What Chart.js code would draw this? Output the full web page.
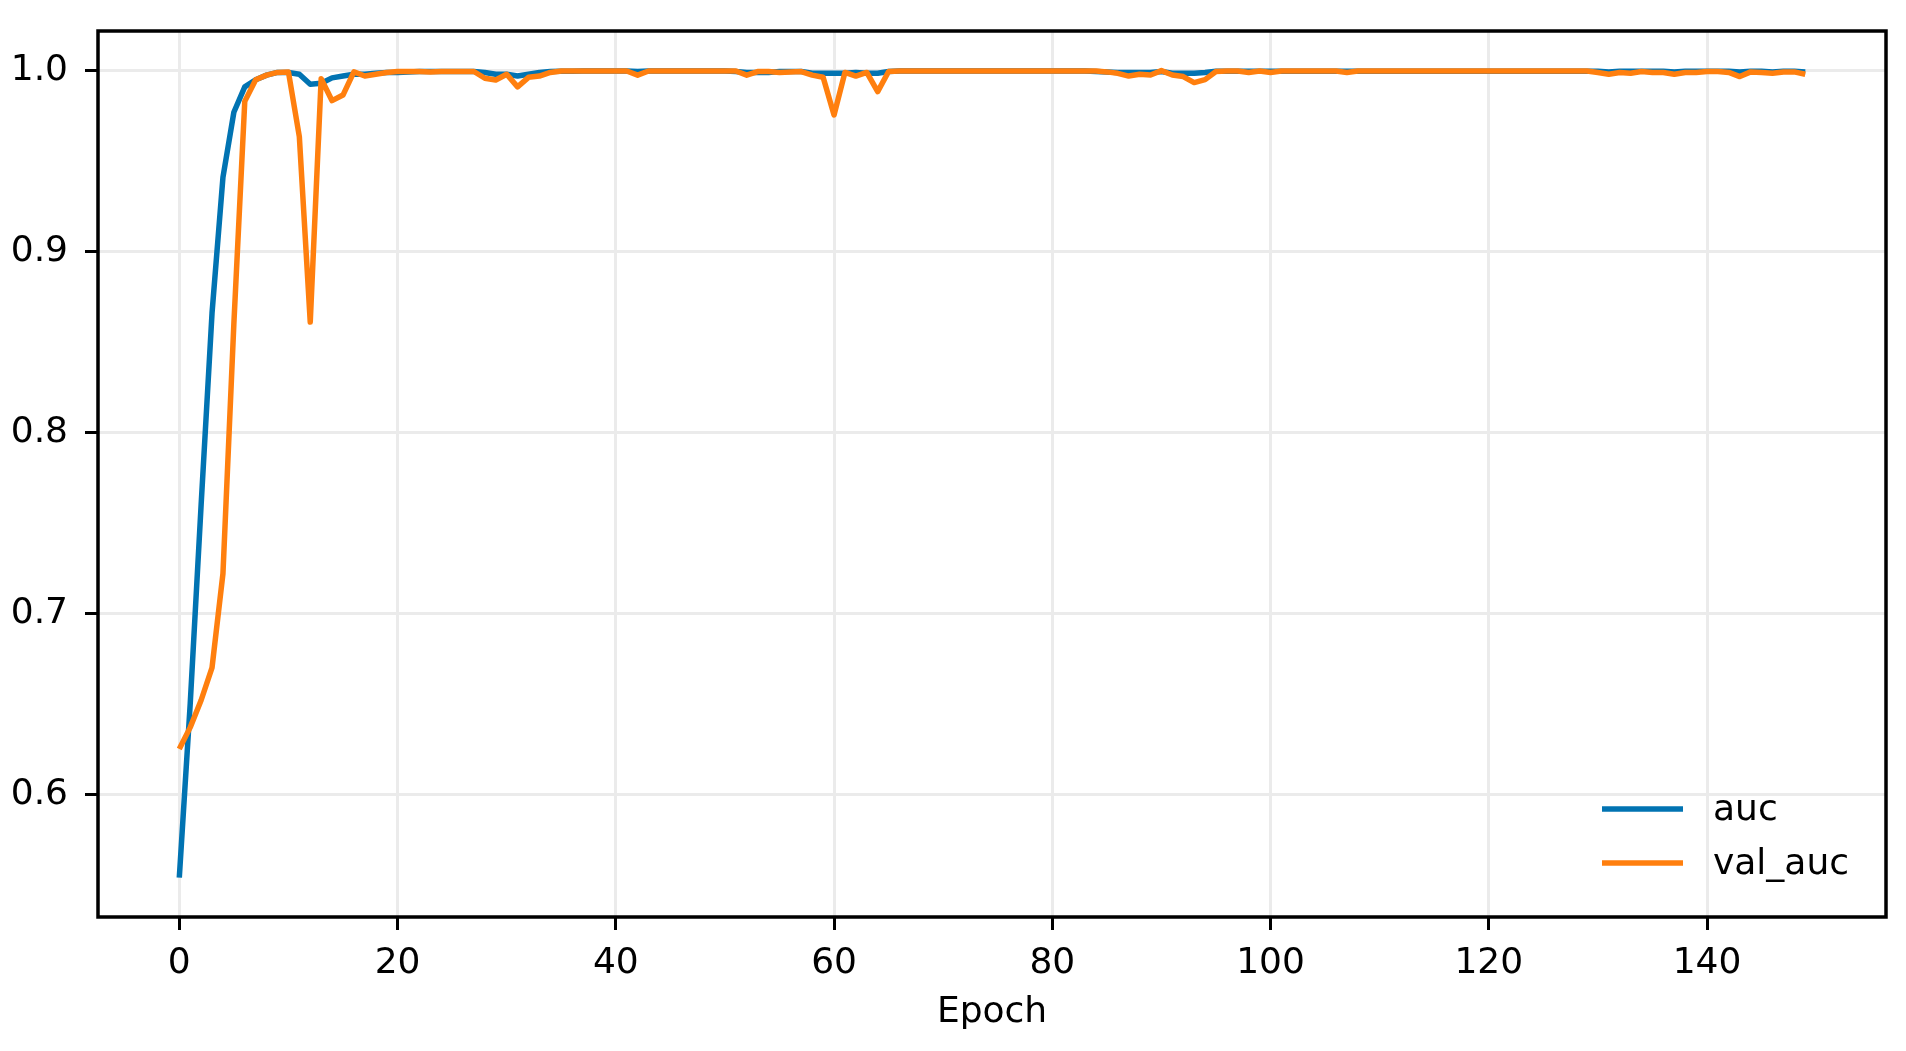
<!DOCTYPE html>
<html>
<head>
<meta charset="utf-8">
<script src="https://cdn.jsdelivr.net/npm/chart.js@4.4.1/dist/chart.umd.min.js"></script>
<style>
    body { margin: 0; background: #ffffff; }
    canvas { display: block; }
</style>
</head>
<body>
<canvas id="auc-chart" width="1906" height="1051"></canvas>
<script>
const epochs = Array.from({ length: 150 }, (_, i) => i);

const aucValues = [
    0.554, 0.650, 0.760, 0.866, 0.941, 0.977, 0.991, 0.995, 0.9975, 0.999,
    0.999, 0.998, 0.9925, 0.993, 0.996, 0.997, 0.998, 0.998, 0.9985, 0.999,
    0.999, 0.9993, 0.9995, 0.9995, 0.9995, 0.9995, 0.9995, 0.9995, 0.999, 0.998,
    0.998, 0.997, 0.998, 0.999, 0.9995, 0.9997, 0.9997, 0.9998, 0.9998, 0.9998,
    0.9998, 0.9998, 0.9995, 0.9998, 0.9998, 0.9998, 0.9998, 0.9998, 0.9998, 0.9998,
    0.9998, 0.9995, 0.999, 0.999, 0.999, 0.9995, 0.9995, 0.9995, 0.9985, 0.9985,
    0.9985, 0.9985, 0.999, 0.9985, 0.9985, 0.9995, 0.9998, 0.9998, 0.9998, 0.9998,
    0.9998, 0.9998, 0.9998, 0.9998, 0.9998, 0.9998, 0.9998, 0.9998, 0.9998, 0.9998,
    0.9998, 0.9998, 0.9998, 0.9998, 0.9995, 0.9993, 0.999, 0.999, 0.999, 0.999,
    0.9995, 0.9985, 0.9985, 0.9985, 0.999, 0.9997, 0.9997, 0.9997, 0.9997, 0.9997,
    0.9997, 0.9997, 0.9997, 0.9997, 0.9997, 0.9997, 0.9997, 0.9997, 0.9997, 0.9997,
    0.9997, 0.9997, 0.9997, 0.9997, 0.9997, 0.9997, 0.9997, 0.9997, 0.9997, 0.9997,
    0.9997, 0.9997, 0.9997, 0.9997, 0.9997, 0.9997, 0.9997, 0.9997, 0.9997, 0.9997,
    0.9997, 0.9993, 0.9997, 0.9997, 0.9997, 0.9997, 0.9997, 0.9993, 0.9997, 0.9997,
    0.9997, 0.9997, 0.9997, 0.9993, 0.9997, 0.9997, 0.9993, 0.9997, 0.9997, 0.9993
];

const valAucValues = [
    0.625, 0.637, 0.652, 0.670, 0.722, 0.860, 0.983, 0.995, 0.9975, 0.999,
    0.9993, 0.9635, 0.861, 0.9955, 0.9834, 0.9865, 0.9993, 0.997, 0.998, 0.999,
    0.9995, 0.9995, 0.9995, 0.9993, 0.9995, 0.9995, 0.9995, 0.9995, 0.9958, 0.9948,
    0.998, 0.991, 0.9963, 0.997, 0.999, 0.9998, 0.9998, 0.9998, 0.9998, 0.9998,
    0.9998, 0.9998, 0.9975, 0.9998, 0.9998, 0.9998, 0.9998, 0.9998, 0.9998, 0.9998,
    0.9998, 0.9998, 0.9975, 0.9995, 0.9995, 0.999, 0.9992, 0.9995, 0.9975, 0.9963,
    0.9755, 0.999, 0.997, 0.999, 0.9884, 0.9995, 0.9998, 0.9998, 0.9998, 0.9998,
    0.9998, 0.9998, 0.9998, 0.9998, 0.9998, 0.9998, 0.9998, 0.9998, 0.9998, 0.9998,
    0.9998, 0.9998, 0.9998, 0.9998, 0.9998, 0.9993, 0.9985, 0.997, 0.998, 0.9976,
    1.0, 0.9976, 0.9967, 0.9934, 0.995, 0.9995, 0.9998, 0.9998, 0.999, 0.9998,
    0.999, 0.9998, 0.9998, 0.9998, 0.9998, 0.9998, 0.9998, 0.999, 0.9998, 0.9998,
    0.9998, 0.9998, 0.9998, 0.9998, 0.9998, 0.9998, 0.9998, 0.9998, 0.9998, 0.9998,
    0.9998, 0.9998, 0.9998, 0.9998, 0.9998, 0.9998, 0.9998, 0.9998, 0.9998, 0.9998,
    0.999, 0.998, 0.999, 0.9985, 0.9995, 0.999, 0.999, 0.998, 0.999, 0.999,
    0.9995, 0.9995, 0.999, 0.9967, 0.9993, 0.999, 0.9985, 0.9992, 0.9993, 0.998
];

const xTicks = [0, 20, 40, 60, 80, 100, 120, 140];
const yTicks = [0.6, 0.7, 0.8, 0.9, 1.0];

const FONT = { family: 'DejaVu Sans', size: 36 };

// matplotlib-style frame around the plot area
const framePlugin = {
    id: 'frame',
    afterDatasetsDraw(chart) {
        const { ctx, chartArea } = chart;
        ctx.save();
        ctx.strokeStyle = '#000';
        ctx.lineWidth = 3.5;
        ctx.strokeRect(chartArea.left, chartArea.top, chartArea.right - chartArea.left, chartArea.bottom - chartArea.top);
        ctx.restore();
    }
};

// legend inside the axes, bottom right, no box
const legendPlugin = {
    id: 'innerLegend',
    afterDraw(chart) {
        const { ctx } = chart;
        const x0 = 1602, x1 = 1683, tx = 1713;
        const rows = [809, 863];
        ctx.save();
        ctx.font = `${FONT.size}px ${FONT.family}`;
        ctx.textBaseline = 'middle';
        ctx.fillStyle = '#000';
        chart.data.datasets.forEach((ds, i) => {
            ctx.strokeStyle = ds.borderColor;
            ctx.lineWidth = 5.5;
            ctx.beginPath();
            ctx.moveTo(x0, rows[i]);
            ctx.lineTo(x1, rows[i]);
            ctx.stroke();
            ctx.fillText(ds.label, tx, rows[i] + 2);
        });
        ctx.restore();
    }
};

const fixedTicks = (values) => (scale) => {
    scale.ticks = values.map(v => ({ value: v }));
};

const SetData = () => {
    const data = {
        labels: epochs,
        datasets: [{
            label: 'auc',
            data: aucValues,
            borderColor: '#0173b2',
            borderWidth: 5.5,
            order: 1
        },
        {
            label: 'val_auc',
            data: valAucValues,
            borderColor: '#ff7f0e',
            borderWidth: 5.5,
            order: 0
        }]
    };

    const config = {
        type: 'line',
        data: data,
        options: {
            responsive: false,
            animation: false,
            layout: { padding: { top: 31, right: 20, left: 0, bottom: 0 } },
            elements: {
                point: { radius: 0 },
                line: { tension: 0, borderCapStyle: 'butt', borderJoinStyle: 'round' }
            },
            plugins: {
                legend: { display: false },
                tooltip: { enabled: false }
            },
            scales: {
                x: {
                    type: 'linear',
                    min: -7.45,
                    max: 156.4,
                    afterBuildTicks: fixedTicks(xTicks),
                    afterFit: (scale) => {
                        scale.height = 134;
                        scale.paddingLeft = 0;
                        scale.paddingRight = 0;
                    },
                    grid: { color: '#ebebeb', lineWidth: 3, tickColor: '#000', tickLength: 13, tickWidth: 3 },
                    border: { display: false },
                    ticks: { color: '#000', font: FONT, padding: 12, maxRotation: 0, callback: (v) => String(v) },
                    title: { display: true, text: 'Epoch', color: '#000', font: FONT, padding: { top: 0, bottom: 17 } }
                },
                y: {
                    min: 0.5322,
                    max: 1.0219,
                    afterBuildTicks: fixedTicks(yTicks),
                    afterFit: (scale) => {
                        scale.width = 98;
                        scale.paddingTop = 0;
                        scale.paddingBottom = 0;
                    },
                    grid: { color: '#ebebeb', lineWidth: 3, tickColor: '#000', tickLength: 13, tickWidth: 3 },
                    border: { display: false },
                    ticks: { color: '#000', font: FONT, padding: 17, callback: (v) => v.toFixed(1) }
                }
            }
        },
        plugins: [framePlugin, legendPlugin]
    };
    return config;
};

const CreateAucChart = () => {
    const aucChart = new Chart(document.getElementById('auc-chart'), SetData());
};

CreateAucChart();
</script>
</body>
</html>
